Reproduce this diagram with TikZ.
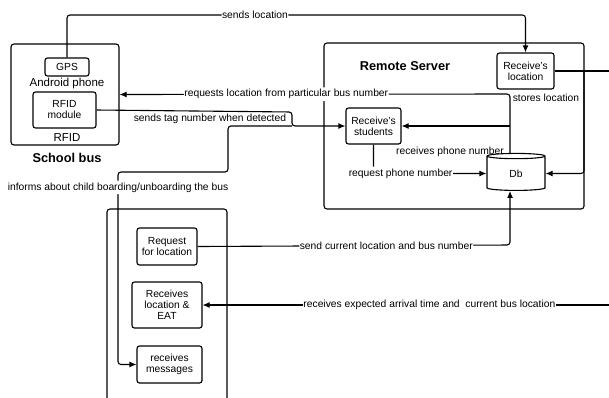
\documentclass[tikz,border=0pt]{standalone}
\usepackage{fontspec}
\setmainfont{Liberation Sans}
\usetikzlibrary{shapes.geometric,arrows.meta}

\begin{document}
\begin{tikzpicture}[x=1pt, y=-1pt, line width=1.1pt,
  >={Latex[length=7pt,width=6pt]},
  box/.style={draw, rounded corners=2.5pt, align=center, inner sep=0pt,
    font=\fontsize{10.3}{11}\selectfont},
  group/.style={draw, rounded corners=3pt, inner sep=0pt},
  lbl/.style={fill=white, inner xsep=0.5pt, inner ysep=2pt,
    font=\fontsize{10.3}{11}\selectfont},
  conn/.style={rounded corners=3pt}]
\useasboundingbox (0,0) rectangle (609,397);
\clip (0,0) rectangle (609,397);

% School bus
\node[group, minimum width=108, minimum height=101] (bus) at (65,94.5) {};
\node[box, minimum width=44, minimum height=18] (gps) at (67,67) {GPS};
\node[font=\fontsize{11.5}{12}\selectfont] (android) at (67,84) {Android phone};
\node[box, minimum width=63, minimum height=36] (rfid) at (64.5,110) {RFID\\module};
\node[font=\fontsize{11.5}{12}\selectfont] (rfidtxt) at (67,138) {RFID};
\node[font=\fontsize{12.8}{13}\selectfont\bfseries] (buslbl) at (67,158) {School bus};

% Remote server
\node[group, minimum width=260, minimum height=166] (server) at (454,126) {};
\node[font=\fontsize{12.8}{13}\selectfont\bfseries] (serverlbl) at (405,66) {Remote Server};
\node[box, minimum width=57, minimum height=36] (loc) at (525.5,71) {Receive's\\location};
\node[box, minimum width=55, minimum height=36] (students) at (373.5,126) {Receive's\\students};
\node[draw, cylinder, shape border rotate=90, aspect=0.4, minimum width=58,
  minimum height=37, inner sep=0pt, font=\fontsize{10.3}{11}\selectfont] (db) at (516,173.5) {Db};
\node[font=\fontsize{10.3}{11}\selectfont] (stores) at (546,98) {stores location};
\node[font=\fontsize{10.3}{11}\selectfont] (phonelbl) at (450,152) {receives phone number};

% Parent phone
\node[group, minimum width=120, minimum height=220] (parent) at (167,319) {};
\node[box, minimum width=60, minimum height=37] (request) at (167,246.5) {Request\\for location};
\node[box, minimum width=70, minimum height=46] (eat) at (167,305) {Receives\\location \&\\EAT};
\node[box, minimum width=65, minimum height=37] (msg) at (169.5,364.5) {receives\\messages};

% Bus to server
\draw[conn, ->] (gps.north) -- (67,15)
  -- node[lbl, pos=0.41] {sends location} (525.5,15) -- (loc.north);
\draw[conn, ->] (rfid.east) -- node[below, pos=0.58, inner sep=2pt,
  font=\fontsize{10.3}{11}\selectfont] {sends tag number when detected} (292,112)
  -- (292,126) coordinate (tagsplit) -- (students.west);
\draw[conn, ->] (tagsplit) -- (228,126) -- (228,172) -- (118,172)
  |- node[lbl, pos=0.04] {informs about child boarding/unboarding the bus} (msg.west);

% Inside server
\draw[conn, ->] ([xshift=-6pt]db.north) -- (510,94)
  -- node[lbl, pos=0.573] {requests location from particular bus number} (bus.east);
\draw[->] (510,126) -- (students.east);
\draw[conn, ->] (students.south) |- node[lbl, pos=0.62] {request phone number} (db.west);
\draw (loc.east) -- (615,71);
\draw[conn, ->] (584,71) -- (584,173.5) -- (db.east);

% Phone to server
\draw[conn, ->] (request.east)
  -- node[lbl, pos=0.604] {send current location and bus number} (510,245)
  -- ([xshift=-6pt]db.south);
\draw[->] (615,305)
  -- node[lbl, pos=0.45] {receives expected arrival time and\ \ current bus location} (eat.east);
\end{tikzpicture}
\end{document}
